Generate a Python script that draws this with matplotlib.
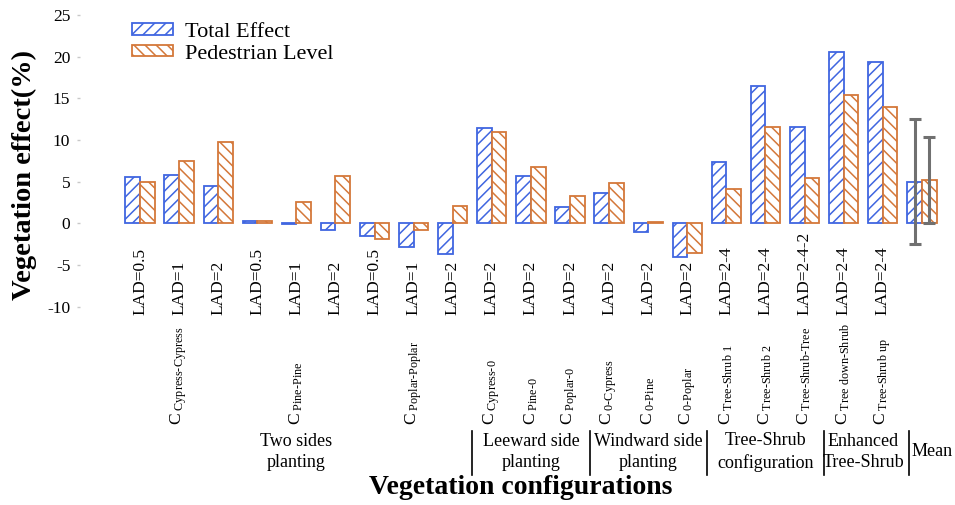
import matplotlib
matplotlib.use("Agg")
import matplotlib.pyplot as plt
import numpy as np
from matplotlib import transforms
from matplotlib.lines import Line2D

plt.rcParams["font.family"] = ["Liberation Serif", "DejaVu Serif"]
plt.rcParams["mathtext.fontset"] = "custom"
plt.rcParams["mathtext.rm"] = "Liberation Serif"
plt.rcParams["mathtext.it"] = "Liberation Serif:italic"
plt.rcParams["mathtext.bf"] = "Liberation Serif:bold"
plt.rcParams["hatch.linewidth"] = 1.1
plt.rcParams["axes.unicode_minus"] = False

# ---- data -------------------------------------------------------------
lad_labels = ["LAD=0.5", "LAD=1", "LAD=2",
              "LAD=0.5", "LAD=1", "LAD=2",
              "LAD=0.5", "LAD=1", "LAD=2",
              "LAD=2", "LAD=2", "LAD=2",
              "LAD=2", "LAD=2", "LAD=2",
              "LAD=2-4", "LAD=2-4", "LAD=2-4-2",
              "LAD=2-4", "LAD=2-4", ""]
case_labels = ["", "Cypress-Cypress", "",
               "", "Pine-Pine", "",
               "", "Poplar-Poplar", "",
               "Cypress-0", "Pine-0", "Poplar-0",
               "0-Cypress", "0-Pine", "0-Poplar",
               "Tree-Shrub 1", "Tree-Shrub 2", "Tree-Shrub-Tree",
               "Tree down-Shrub", "Tree-Shrub up", ""]
total_effect = [5.5, 5.8, 4.5, 0.3, -0.1, -0.8, -1.5, -2.8, -3.7,
                11.4, 5.7, 2.0, 3.6, -1.1, -4.0,
                7.3, 16.5, 11.5, 20.6, 19.4, 5.0]
pedestrian_level = [5.0, 7.5, 9.7, 0.3, 2.6, 5.7, -1.9, -0.8, 2.1,
                    10.9, 6.7, 3.3, 4.8, 0.1, -3.6,
                    4.1, 11.6, 5.4, 15.4, 14.0, 5.2]
mean_error = [7.5, 5.2]
group_names = ["Two sides\nplanting", "Leeward side\nplanting",
               "Windward side\nplanting", "Tree-Shrub\nconfiguration",
               "Enhanced\nTree-Shrub", "Mean"]
group_sizes = [9, 3, 3, 3, 2, 1]
y_ticks = [-10, -5, 0, 5, 10, 15, 20, 25]

BLUE = "#4066e0"
ORANGE = "#d4783a"

W, H = 955, 505
fig = plt.figure(figsize=(W / 100, H / 100), dpi=100)

def fx(px):
    return px / W

def fy(py):
    return 1 - py / H

ax = fig.add_axes([fx(80), fy(306.6), fx(950) - fx(80), fy(15) - fy(306.6)])

n = len(total_effect)
x = np.arange(n)
w = 0.375
ax.bar(x - w / 2, total_effect, w, facecolor="white", edgecolor=BLUE,
       hatch="///", linewidth=1.3, label="Total Effect")
ax.bar(x + w / 2, pedestrian_level, w, facecolor="white", edgecolor=ORANGE,
       hatch="\\\\\\", linewidth=1.3, label="Pedestrian Level")
ax.errorbar([x[-1] - w / 2, x[-1] + w / 2],
            [total_effect[-1], pedestrian_level[-1]], yerr=mean_error,
            fmt="none", ecolor="#707070", elinewidth=2.2, capsize=4.5,
            capthick=2.2, zorder=5)

ax.set_ylim(-10, 25)
ax.set_xlim(-1.535, 20.72)
ax.set_yticks(y_ticks)
ax.set_xticks([])
ax.tick_params(axis="y", length=2, width=1, color="#c8c8c8",
               labelsize=12.5, pad=5)
for s in ax.spines.values():
    s.set_visible(False)

trans = transforms.blended_transform_factory(ax.transData, fig.transFigure)

# category labels under the bars
for i in range(n):
    if lad_labels[i]:
        ax.text(i, fy(315), lad_labels[i], rotation=90, ha="center",
                va="bottom", fontsize=12.5, transform=trans)
    if case_labels[i]:
        ax.text(i, fy(425), r"C$_{\text{ " + case_labels[i] + "}}$",
                rotation=90, ha="center", va="bottom", fontsize=12.5,
                transform=trans)

# group names and dividers
start = 0
for k, (name, size) in enumerate(zip(group_names, group_sizes)):
    centre = start + (size - 1) / 2
    if name == "Mean":
        centre += 0.26
    ax.text(centre, fy(452), name, ha="center", va="center", fontsize=13,
            linespacing=1.3, transform=trans)
    end = start + size
    if k < len(group_sizes) - 1:
        d = end - 0.5
        if k == len(group_sizes) - 2:
            d += 0.17
        fig.add_artist(Line2D([d, d], [fy(431), fy(475)], transform=trans,
                              color="black", lw=1.2))
    start = end

fig.text(fx(24), fy(175), "Vegetation effect(%)", rotation=90, ha="center",
         va="center", fontsize=20.5, fontweight="bold")
fig.text(fx(521), fy(488), "Vegetation configurations", ha="center",
         va="center", fontsize=20, fontweight="bold")

fig.legend(loc="upper left", bbox_to_anchor=(fx(132), fy(23)), frameon=False,
           fontsize=16, handlelength=1.85, handleheight=0.4,
           handletextpad=0.55, labelspacing=0.12, borderpad=0,
           borderaxespad=0)

fig.savefig("out.png", dpi=100)
